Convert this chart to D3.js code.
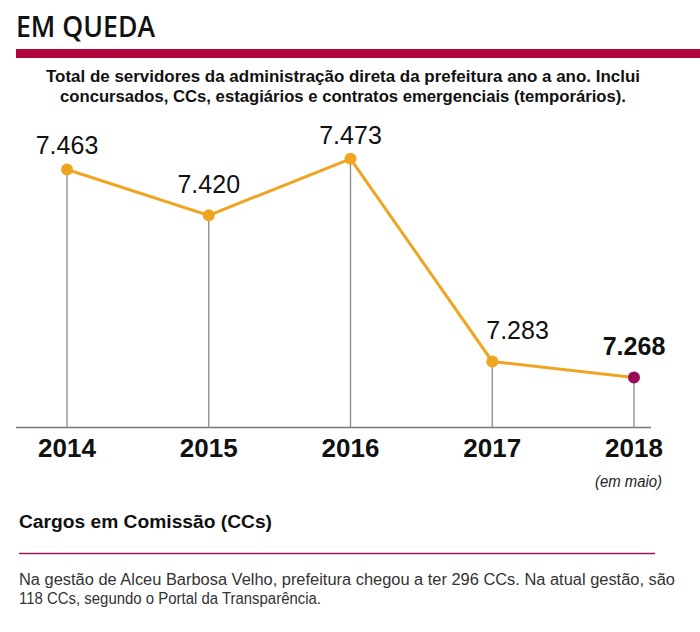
<!DOCTYPE html>
<html>
<head>
<meta charset="utf-8">
<script src="https://cdn.jsdelivr.net/npm/d3@7"></script>
<style>
  html, body { margin: 0; padding: 0; background: #fff; }
  svg { display: block; }
</style>
</head>
<body>
<svg id="chart" width="700" height="632"></svg>
<script>
const years = ["2014", "2015", "2016", "2017", "2018"];
const values = [7463, 7420, 7473, 7283, 7268];
const valueLabels = ["7.463", "7.420", "7.473", "7.283", "7.268"];
const title = "EM QUEDA";
const subtitle = [
  "Total de servidores da administração direta da prefeitura ano a ano. Inclui",
  "concursados, CCs, estagiários e contratos emergenciais (temporários)."
];
const note2018 = "(em maio)";
const sectionTitle = "Cargos em Comissão (CCs)";
const bodyText = [
  "Na gestão de Alceu Barbosa Velho, prefeitura chegou a ter 296 CCs. Na atual gestão, são",
  "118 CCs, segundo o Portal da Transparência."
];

const svg = d3.select("#chart");
const ORANGE = "#efa522", MAGENTA = "#9c0b57", RED = "#b3043f", GRAY = "#8a8a8a";
const sans = "'Liberation Sans', Arial, Helvetica, sans-serif";

// Title
svg.append("text").attr("x", 16).attr("y", 37)
  .attr("font-family", "'Open Sans', 'Noto Sans', sans-serif")
  .attr("font-weight", 600).attr("font-size", 28.5)
  .attr("textLength", 139).attr("lengthAdjust", "spacingAndGlyphs")
  .attr("fill", "#111").text(title);
svg.append("rect").attr("x", 16).attr("y", 49).attr("width", 684).attr("height", 9).attr("fill", RED);

// Subtitle
const subW = [594, 566];
svg.selectAll("text.sub").data(subtitle).join("text")
  .attr("class", "sub")
  .attr("x", 343).attr("y", (d, i) => 82 + i * 20)
  .attr("text-anchor", "middle")
  .attr("font-family", sans).attr("font-weight", "bold").attr("font-size", 17)
  .attr("textLength", (d, i) => subW[i]).attr("lengthAdjust", "spacingAndGlyphs")
  .attr("fill", "#111").text(d => d);

// Scales
const x = d3.scalePoint().domain(years).range([67, 634]);
const y = d3.scaleLinear().domain([7200, 7500]).range([450, 130]);
const baseY = 427.5;

const data = years.map((yr, i) => ({ yr, v: values[i], label: valueLabels[i], i }));

// Baseline axis
svg.append("line").attr("x1", 16).attr("x2", 651).attr("y1", baseY).attr("y2", baseY)
  .attr("stroke", "#7a7a7a").attr("stroke-width", 1.5);

// Drop lines
svg.selectAll("line.drop").data(data).join("line")
  .attr("class", "drop")
  .attr("x1", d => x(d.yr)).attr("x2", d => x(d.yr))
  .attr("y1", d => y(d.v)).attr("y2", baseY)
  .attr("stroke", GRAY).attr("stroke-width", 1.3);

// Line
svg.append("path").datum(data)
  .attr("d", d3.line().x(d => x(d.yr)).y(d => y(d.v)))
  .attr("fill", "none").attr("stroke", ORANGE).attr("stroke-width", 3);

// Dots
svg.selectAll("circle.dot").data(data).join("circle")
  .attr("class", "dot")
  .attr("cx", d => x(d.yr)).attr("cy", d => y(d.v)).attr("r", 6)
  .attr("fill", d => d.i === data.length - 1 ? MAGENTA : ORANGE);

// Value labels
const last = data.length - 1;
const steepDrop = d => d.i > 0 && values[d.i - 1] - d.v > 100;
svg.selectAll("text.val").data(data).join("text")
  .attr("class", "val")
  .attr("x", d => steepDrop(d) ? x(d.yr) - 6 : x(d.yr))
  .attr("text-anchor", d => steepDrop(d) ? "start" : "middle")
  .attr("y", d => {
    const prev = d.i > 0 ? values[d.i - 1] : null;
    return y(d.v) - ((prev !== null && prev > d.v) ? 22 : 15);
  })
  .attr("font-family", sans).attr("font-size", 25)
  .attr("font-weight", d => d.i === last ? "bold" : "normal")
  .attr("fill", "#111").text(d => d.label);

// Year labels
svg.selectAll("text.yr").data(data).join("text")
  .attr("class", "yr")
  .attr("x", d => x(d.yr)).attr("y", 456.5)
  .attr("text-anchor", "middle")
  .attr("font-family", sans).attr("font-weight", "bold").attr("font-size", 26)
  .attr("fill", "#111").text(d => d.yr);

svg.append("text").attr("x", 662).attr("y", 487).attr("text-anchor", "end")
  .attr("font-family", sans).attr("font-style", "italic").attr("font-size", 16)
  .attr("textLength", 67).attr("lengthAdjust", "spacingAndGlyphs")
  .attr("fill", "#222").text(note2018);

// Section
svg.append("text").attr("x", 19).attr("y", 528)
  .attr("font-family", sans).attr("font-weight", "bold").attr("font-size", 18)
  .attr("textLength", 253).attr("lengthAdjust", "spacingAndGlyphs")
  .attr("fill", "#111").text(sectionTitle);
svg.append("line").attr("x1", 19).attr("x2", 655).attr("y1", 553.5).attr("y2", 553.5)
  .attr("stroke", "#a3185c").attr("stroke-width", 1.5);

const bodyW = [656, 302];
svg.selectAll("text.body").data(bodyText).join("text")
  .attr("class", "body")
  .attr("x", 19).attr("y", (d, i) => 585 + i * 19)
  .attr("font-family", sans).attr("font-size", 16)
  .attr("textLength", (d, i) => bodyW[i]).attr("lengthAdjust", "spacingAndGlyphs")
  .attr("fill", "#333").text(d => d);
</script>
</body>
</html>
